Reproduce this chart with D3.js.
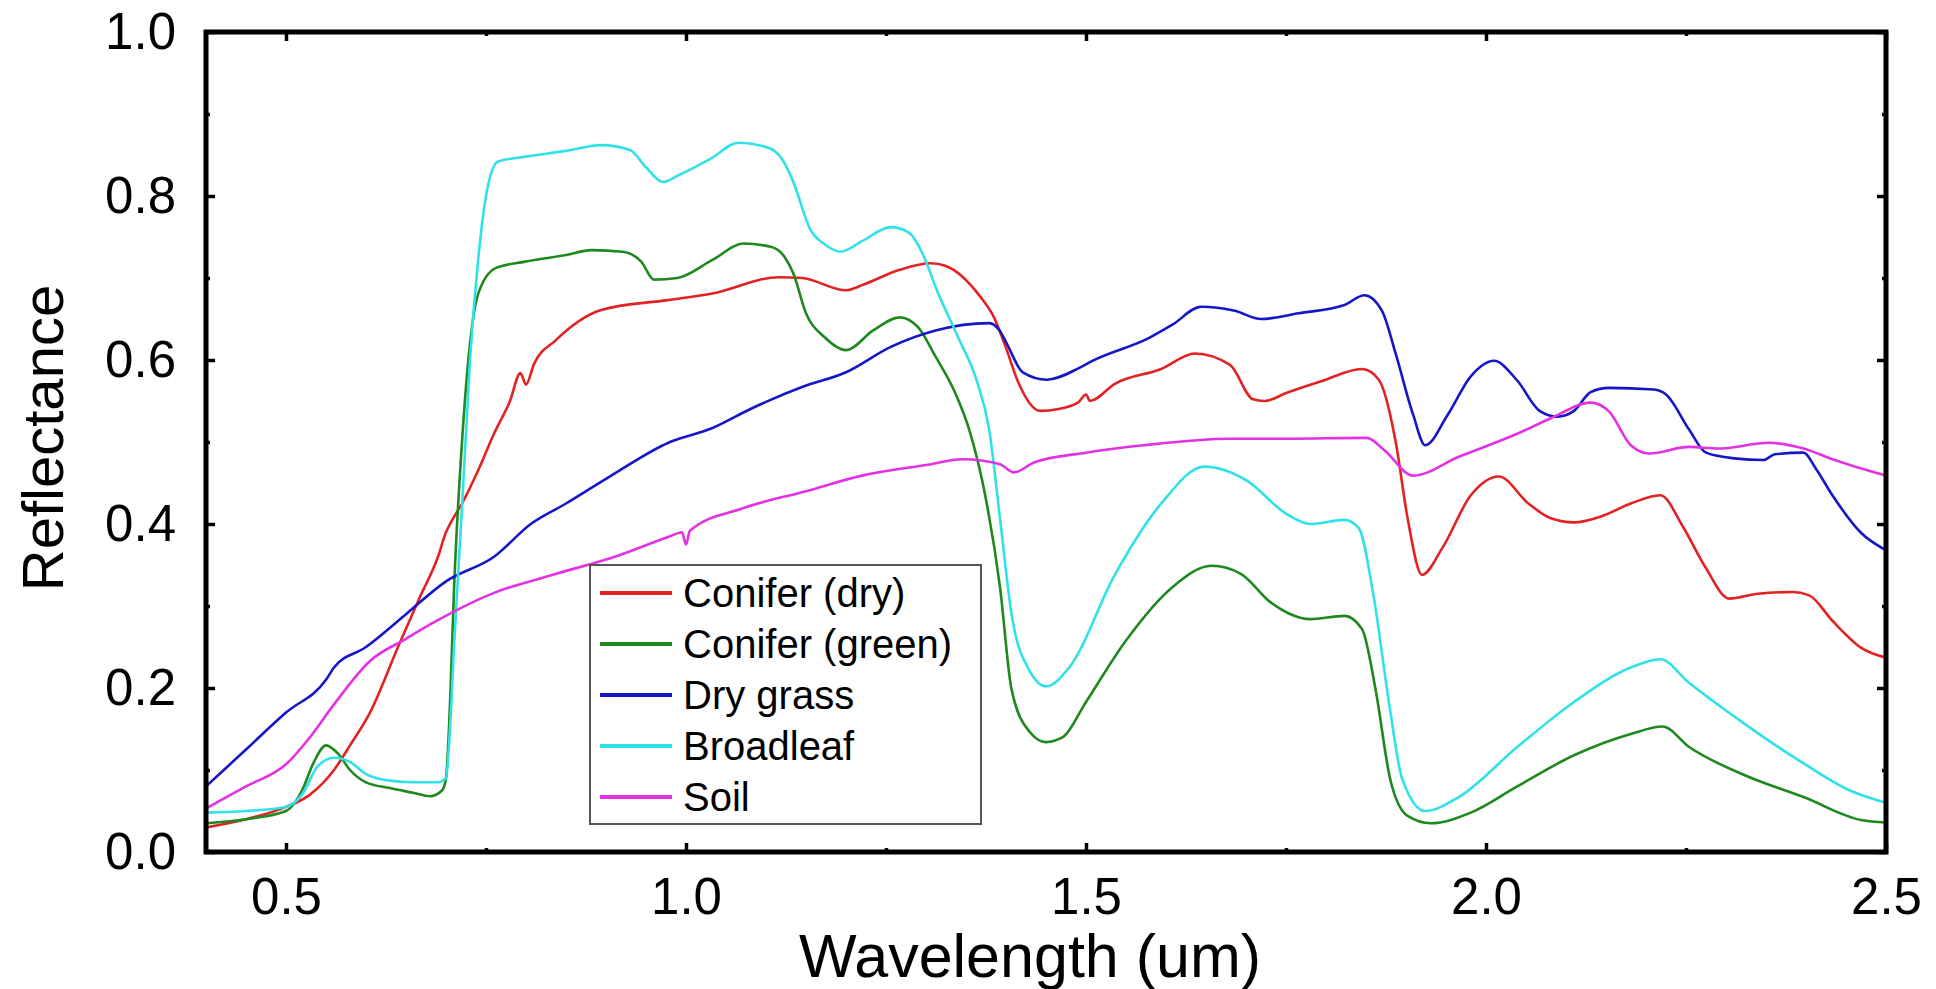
<!DOCTYPE html>
<html>
<head>
<meta charset="utf-8">
<script src="https://cdn.jsdelivr.net/npm/d3@7"></script>
<style>
  html, body { margin: 0; padding: 0; background: #ffffff; }
  svg { display: block; }
  text { font-family: "Liberation Sans", Arial, Helvetica, sans-serif; fill: #000; }
</style>
</head>
<body>
<svg id="chart" width="1936" height="989"></svg>
<script>
// Spectral reflectance curves, [wavelength (um), reflectance]
const coniferDry = [[0.40,0.03],[0.45,0.04],[0.50,0.055],[0.53,0.07],[0.56,0.10],[0.58,0.13],[0.605,0.17],[0.64,0.25],[0.667,0.31],[0.69,0.36],[0.70,0.39],[0.705,0.40],[0.72,0.425],[0.74,0.465],[0.76,0.51],[0.78,0.55],[0.793,0.584],[0.80,0.57],[0.81,0.595],[0.837,0.624],[0.894,0.661],[0.977,0.673],[1.033,0.681],[1.116,0.701],[1.145,0.70],[1.20,0.685],[1.222,0.692],[1.267,0.71],[1.306,0.718],[1.324,0.715],[1.368,0.677],[1.385,0.652],[1.401,0.612],[1.414,0.576],[1.443,0.538],[1.464,0.54],[1.49,0.548],[1.50,0.558],[1.505,0.55],[1.536,0.571],[1.594,0.589],[1.636,0.608],[1.68,0.594],[1.709,0.552],[1.723,0.55],[1.751,0.56],[1.794,0.574],[1.845,0.589],[1.866,0.576],[1.887,0.501],[1.902,0.407],[1.92,0.338],[1.945,0.37],[1.981,0.435],[2.016,0.458],[2.053,0.425],[2.081,0.407],[2.11,0.402],[2.146,0.41],[2.181,0.425],[2.218,0.435],[2.246,0.397],[2.275,0.346],[2.304,0.309],[2.34,0.315],[2.383,0.317],[2.404,0.313],[2.433,0.282],[2.469,0.249],[2.50,0.237]];

const coniferGreen = [[0.40,0.035],[0.45,0.04],[0.50,0.05],[0.52,0.075],[0.535,0.11],[0.55,0.13],[0.565,0.12],[0.58,0.10],[0.60,0.085],[0.63,0.078],[0.66,0.072],[0.68,0.068],[0.695,0.075],[0.70,0.09],[0.705,0.18],[0.71,0.32],[0.72,0.50],[0.73,0.62],[0.74,0.68],[0.762,0.712],[0.799,0.72],[0.85,0.728],[0.882,0.734],[0.921,0.732],[0.944,0.72],[0.96,0.698],[0.989,0.70],[1.033,0.722],[1.072,0.742],[1.106,0.738],[1.123,0.726],[1.134,0.706],[1.15,0.657],[1.173,0.628],[1.20,0.612],[1.234,0.636],[1.267,0.652],[1.29,0.64],[1.312,0.604],[1.335,0.563],[1.354,0.515],[1.375,0.43],[1.3925,0.323],[1.407,0.198],[1.43,0.146],[1.45,0.134],[1.471,0.14],[1.50,0.183],[1.55,0.258],[1.608,0.323],[1.657,0.349],[1.694,0.339],[1.73,0.305],[1.78,0.284],[1.823,0.288],[1.845,0.272],[1.862,0.198],[1.88,0.09],[1.902,0.044],[1.931,0.035],[1.981,0.048],[2.039,0.08],[2.11,0.118],[2.181,0.144],[2.221,0.153],[2.254,0.128],[2.325,0.093],[2.397,0.067],[2.469,0.039],[2.50,0.036]];

const dryGrass = [[0.40,0.08],[0.45,0.125],[0.50,0.17],[0.55,0.21],[0.56,0.225],[0.60,0.25],[0.65,0.29],[0.70,0.33],[0.76,0.36],[0.806,0.40],[0.85,0.425],[0.90,0.455],[0.98,0.50],[1.033,0.517],[1.08,0.54],[1.145,0.567],[1.20,0.585],[1.256,0.616],[1.312,0.636],[1.379,0.645],[1.392,0.636],[1.401,0.62],[1.421,0.585],[1.451,0.576],[1.491,0.59],[1.508,0.599],[1.579,0.627],[1.608,0.643],[1.644,0.665],[1.686,0.66],[1.719,0.65],[1.766,0.657],[1.823,0.667],[1.848,0.679],[1.87,0.66],[1.887,0.608],[1.909,0.533],[1.924,0.496],[1.952,0.533],[1.981,0.58],[2.01,0.599],[2.039,0.575],[2.067,0.538],[2.089,0.531],[2.11,0.538],[2.131,0.561],[2.154,0.566],[2.21,0.564],[2.225,0.558],[2.254,0.515],[2.275,0.487],[2.311,0.48],[2.347,0.478],[2.361,0.485],[2.397,0.487],[2.412,0.468],[2.433,0.435],[2.469,0.389],[2.50,0.368]];

const broadleaf = [[0.40,0.048],[0.45,0.05],[0.50,0.055],[0.52,0.07],[0.54,0.105],[0.56,0.115],[0.58,0.11],[0.60,0.095],[0.63,0.087],[0.66,0.085],[0.69,0.085],[0.70,0.09],[0.705,0.15],[0.71,0.25],[0.72,0.42],[0.73,0.60],[0.74,0.72],[0.75,0.80],[0.765,0.842],[0.80,0.848],[0.85,0.855],[0.894,0.862],[0.93,0.856],[0.95,0.835],[0.971,0.817],[0.99,0.825],[1.03,0.845],[1.066,0.865],[1.105,0.858],[1.12,0.845],[1.133,0.82],[1.156,0.758],[1.175,0.74],[1.193,0.732],[1.22,0.745],[1.256,0.762],[1.279,0.755],[1.30,0.72],[1.312,0.689],[1.34,0.628],[1.363,0.576],[1.379,0.515],[1.3925,0.407],[1.407,0.29],[1.43,0.22],[1.45,0.202],[1.479,0.225],[1.536,0.338],[1.594,0.425],[1.648,0.47],[1.701,0.453],[1.751,0.412],[1.78,0.40],[1.823,0.405],[1.841,0.395],[1.859,0.315],[1.88,0.174],[1.895,0.09],[1.924,0.05],[1.966,0.067],[2.039,0.128],[2.11,0.183],[2.181,0.225],[2.218,0.235],[2.253,0.207],[2.325,0.155],[2.397,0.108],[2.455,0.075],[2.50,0.06]];

const soil = [[0.40,0.053],[0.45,0.08],[0.50,0.107],[0.53,0.14],[0.56,0.18],[0.605,0.233],[0.65,0.26],[0.683,0.279],[0.76,0.316],[0.837,0.339],[0.914,0.361],[0.98,0.385],[0.995,0.39],[1.00,0.375],[1.005,0.392],[1.07,0.419],[1.15,0.44],[1.22,0.459],[1.30,0.472],[1.346,0.479],[1.3925,0.473],[1.41,0.463],[1.435,0.475],[1.50,0.487],[1.572,0.496],[1.68,0.504],[1.751,0.504],[1.851,0.505],[1.873,0.49],[1.909,0.459],[1.966,0.482],[2.039,0.51],[2.081,0.529],[2.131,0.548],[2.154,0.537],[2.181,0.496],[2.204,0.486],[2.254,0.494],[2.29,0.492],[2.354,0.499],[2.397,0.492],[2.433,0.479],[2.50,0.459]];

const seriesNames = ["Conifer (dry)", "Conifer (green)", "Dry grass", "Broadleaf", "Soil"];
const seriesColors = ["#e32222", "#1f881f", "#1616c8", "#30e2e8", "#e232e2"];
const seriesData = [coniferDry, coniferGreen, dryGrass, broadleaf, soil];

const xMajorTicks = [0.5, 1.0, 1.5, 2.0, 2.5];
const xMinorTicks = [0.75, 1.25, 1.75, 2.25];
const yMajorTicks = [0.0, 0.2, 0.4, 0.6, 0.8, 1.0];
const yMinorTicks = [0.1, 0.3, 0.5, 0.7, 0.9];

const xLabel = "Wavelength (um)";
const yLabel = "Reflectance";

// Layout
const plot = { left: 206, right: 1886, top: 32, bottom: 852 };
const svg = d3.select("#chart");

const x = d3.scaleLinear().domain([0.4, 2.5]).range([plot.left, plot.right]);
const y = d3.scaleLinear().domain([0, 1]).range([plot.bottom, plot.top]);

// Curves, clipped to the frame
svg.append("clipPath").attr("id", "plotClip")
  .append("rect")
  .attr("x", plot.left).attr("y", plot.top)
  .attr("width", plot.right - plot.left).attr("height", plot.bottom - plot.top);

const line = d3.line()
  .x(d => x(d[0]))
  .y(d => y(d[1]))
  .curve(d3.curveMonotoneX);

svg.append("g").attr("clip-path", "url(#plotClip)")
  .selectAll("path")
  .data(seriesData)
  .join("path")
  .attr("d", line)
  .attr("fill", "none")
  .attr("stroke", (d, i) => seriesColors[i])
  .attr("stroke-width", 2.6)
  .attr("stroke-linejoin", "round");

// Inward ticks on all four sides
function tickAxis(axisFn, scale, values, size, labels) {
  const a = axisFn(scale).tickValues(values).tickSizeInner(-size).tickSizeOuter(0);
  if (!labels) a.tickFormat("");
  else a.tickFormat(d3.format(".1f")).tickPadding(labels);
  return a;
}

const axes = svg.append("g").attr("class", "axes");

// bottom
axes.append("g").attr("transform", `translate(0,${plot.bottom})`)
  .call(tickAxis(d3.axisBottom, x, xMajorTicks, 9, 26))
  .call(g => g.selectAll("text").attr("font-size", 51).attr("dy", "0.71em"));
axes.append("g").attr("transform", `translate(0,${plot.bottom})`)
  .call(tickAxis(d3.axisBottom, x, xMinorTicks, 4, 0));
// top
axes.append("g").attr("transform", `translate(0,${plot.top})`)
  .call(tickAxis(d3.axisTop, x, xMajorTicks, 9, 0));
axes.append("g").attr("transform", `translate(0,${plot.top})`)
  .call(tickAxis(d3.axisTop, x, xMinorTicks, 4, 0));
// left
axes.append("g").attr("transform", `translate(${plot.left},0)`)
  .call(tickAxis(d3.axisLeft, y, yMajorTicks, 9, 30))
  .call(g => g.selectAll("text").attr("font-size", 51));
axes.append("g").attr("transform", `translate(${plot.left},0)`)
  .call(tickAxis(d3.axisLeft, y, yMinorTicks, 4, 0));
// right
axes.append("g").attr("transform", `translate(${plot.right},0)`)
  .call(tickAxis(d3.axisRight, y, yMajorTicks, 9, 0));
axes.append("g").attr("transform", `translate(${plot.right},0)`)
  .call(tickAxis(d3.axisRight, y, yMinorTicks, 4, 0));

axes.selectAll(".domain").remove();
axes.selectAll(".tick line").attr("stroke", "#000").attr("stroke-width", 3.5);
axes.selectAll(".tick text").attr("fill", "#000").attr("font-family", "'Liberation Sans', Arial, sans-serif");

// Frame
svg.append("rect")
  .attr("x", plot.left).attr("y", plot.top)
  .attr("width", plot.right - plot.left).attr("height", plot.bottom - plot.top)
  .attr("fill", "none").attr("stroke", "#000").attr("stroke-width", 5);

// Axis titles
svg.append("text")
  .attr("x", 1030).attr("y", 977)
  .attr("text-anchor", "middle")
  .attr("font-size", 61)
  .text(xLabel);

svg.append("text")
  .attr("transform", `translate(63,${(plot.top + plot.bottom) / 2 - 4}) rotate(-90)`)
  .attr("text-anchor", "middle")
  .attr("font-size", 58)
  .text(yLabel);

// Legend
const legend = svg.append("g").attr("transform", "translate(590,565)");
legend.append("rect")
  .attr("width", 391).attr("height", 259)
  .attr("fill", "#fff").attr("stroke", "#555").attr("stroke-width", 2);
const rows = legend.selectAll("g.row")
  .data(seriesNames)
  .join("g").attr("class", "row")
  .attr("transform", (d, i) => `translate(0,${28 + i * 51})`);
rows.append("line")
  .attr("x1", 10).attr("x2", 82)
  .attr("stroke", (d, i) => seriesColors[i])
  .attr("stroke-width", 4);
rows.append("text")
  .attr("x", 93).attr("dy", "0.36em")
  .attr("font-size", 40)
  .text(d => d);
</script>
</body>
</html>
